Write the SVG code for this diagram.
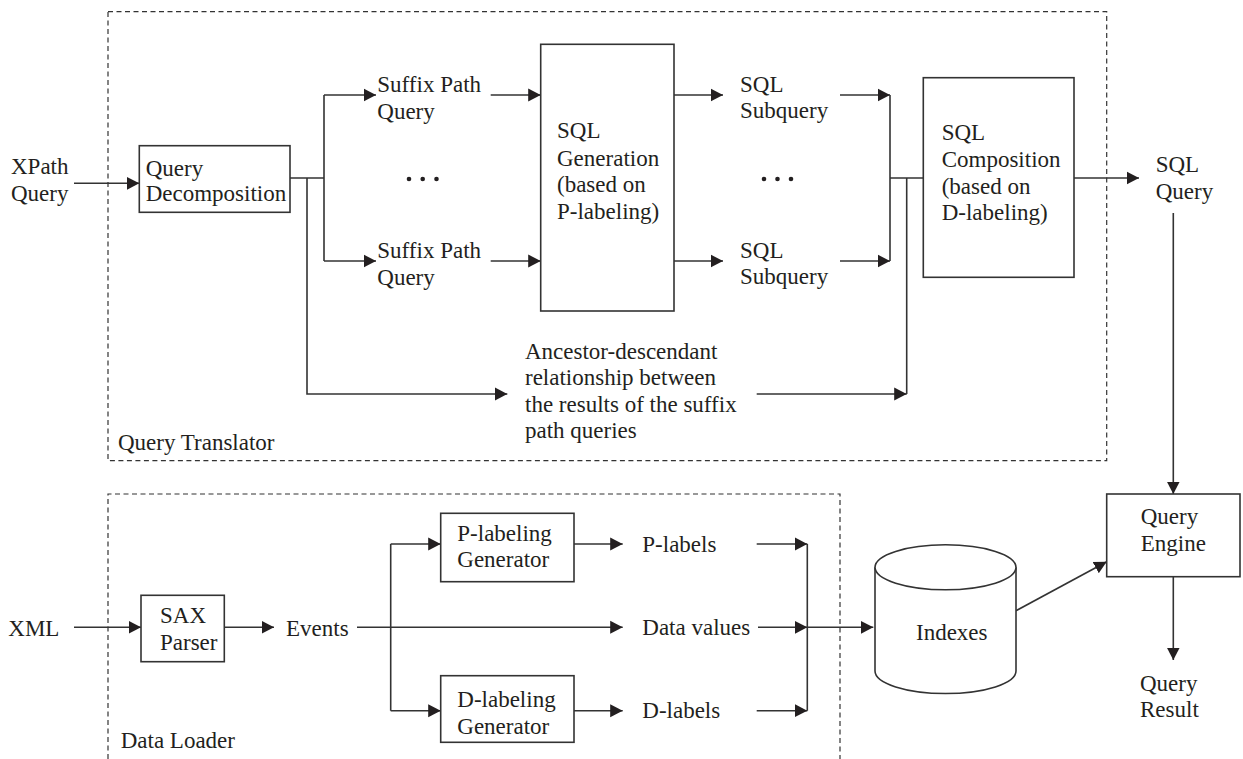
<svg xmlns="http://www.w3.org/2000/svg" width="1243" height="759" viewBox="0 0 1243 759">
<style>
text{font-family:"Liberation Serif","Times New Roman",serif;font-size:23px;fill:#231f20}
.box{fill:#fff;stroke:#333;stroke-width:1.6}
.dash{fill:none;stroke:#333;stroke-width:1.2;stroke-dasharray:5,3.5}
.c{fill:none;stroke:#333;stroke-width:1.6}
.a{marker-end:url(#ah)}
.dot{fill:#231f20}
</style>
<defs>
<marker id="ah" markerUnits="userSpaceOnUse" markerWidth="13" markerHeight="14" refX="12.5" refY="6.5" orient="auto" viewBox="0 0 13 13">
<path d="M0,0 L12.5,6.5 L0,13 z" fill="#231f20"/>
</marker>
</defs>
<rect width="1243" height="759" fill="#fff"/>

<g id="query-translator">
<rect class="dash" x="108" y="11.7" width="998.7" height="449"/>
<text x="118" y="450">Query Translator</text>
</g>
<g id="data-loader">
<path class="dash" d="M108,759 V494 H840 V759"/>
<text x="120.7" y="748">Data Loader</text>
</g>

<g id="connectors">
<path class="c a" d="M74,183.3 H139.3"/>
<path class="c" d="M290,178 H324 M324,95 V261"/>
<path class="c a" d="M324,95 H376"/>
<path class="c a" d="M324,261 H376"/>
<path class="c a" d="M307,178 V394 H507.3"/>
<path class="c a" d="M490.7,95 H540.7"/>
<path class="c a" d="M490.7,261 H540.7"/>
<path class="c a" d="M674,95 H723"/>
<path class="c a" d="M674,261 H723"/>
<path class="c a" d="M840,95 H890"/>
<path class="c a" d="M840,261 H890"/>
<path class="c" d="M890,95 V261 M890,178 H923.3"/>
<path class="c a" d="M756.7,394 H906.7"/>
<path class="c" d="M906.7,178 V394"/>
<path class="c a" d="M1074,178 H1139"/>
<path class="c a" d="M1173.3,213 V494"/>
<path class="c a" d="M1173.3,576.7 V660"/>
<path class="c a" d="M74,627.3 H141"/>
<path class="c a" d="M224.3,627.3 H274"/>
<path class="c a" d="M357,627.3 H622.7"/>
<path class="c" d="M390.7,544 V710.7"/>
<path class="c a" d="M390.7,544 H440.7"/>
<path class="c a" d="M390.7,710.7 H440.7"/>
<path class="c a" d="M574,544 H622.7"/>
<path class="c a" d="M574,710.7 H622.7"/>
<path class="c a" d="M756.7,544 H807.3"/>
<path class="c a" d="M758,627.3 H807.3"/>
<path class="c a" d="M756.7,710.7 H807.3"/>
<path class="c" d="M807.3,544 V710.7"/>
<path class="c a" d="M807.3,627.3 H873.3"/>
<path class="c a" d="M1016,610.7 L1106.7,561.7"/>
</g>

<g id="xpath-query">
<text x="11" y="174">XPath</text>
<text x="11" y="201">Query</text>
</g>
<g id="query-decomposition">
<rect class="box" x="139.3" y="145.7" width="150.7" height="66.6"/>
<text x="145.7" y="175.5">Query</text>
<text x="145.7" y="201">Decomposition</text>
</g>
<g id="suffix-path-query-1">
<text x="377.3" y="92.3">Suffix Path</text>
<text x="377.3" y="118.5">Query</text>
</g>
<g id="dots-1">
<circle class="dot" cx="409" cy="179" r="2.3"/>
<circle class="dot" cx="422.7" cy="179" r="2.3"/>
<circle class="dot" cx="436.5" cy="179" r="2.3"/>
</g>
<g id="suffix-path-query-2">
<text x="377.3" y="258">Suffix Path</text>
<text x="377.3" y="284.5">Query</text>
</g>
<g id="sql-generation">
<rect class="box" x="540.7" y="44.3" width="133.3" height="266.7"/>
<text x="557" y="138">SQL</text>
<text x="557" y="165.5">Generation</text>
<text x="557" y="192">(based on</text>
<text x="557" y="218.5">P-labeling)</text>
</g>
<g id="sql-subquery-1">
<text x="740" y="91.5">SQL</text>
<text x="740" y="118">Subquery</text>
</g>
<g id="dots-2">
<circle class="dot" cx="764" cy="179" r="2.3"/>
<circle class="dot" cx="777.5" cy="179" r="2.3"/>
<circle class="dot" cx="791" cy="179" r="2.3"/>
</g>
<g id="sql-subquery-2">
<text x="740" y="257.5">SQL</text>
<text x="740" y="284">Subquery</text>
</g>
<g id="ancestor-descendant">
<text x="525" y="359">Ancestor-descendant</text>
<text x="525" y="385">relationship between</text>
<text x="525" y="411.5">the results of the suffix</text>
<text x="525" y="438">path queries</text>
</g>
<g id="sql-composition">
<rect class="box" x="923.3" y="77.7" width="150.7" height="199.6"/>
<text x="941.7" y="140">SQL</text>
<text x="941.7" y="167">Composition</text>
<text x="941.7" y="193.5">(based on</text>
<text x="941.7" y="220">D-labeling)</text>
</g>
<g id="sql-query">
<text x="1155.7" y="172">SQL</text>
<text x="1155.7" y="199">Query</text>
</g>
<g id="query-engine">
<rect class="box" x="1106.7" y="494" width="133.3" height="82.7"/>
<text x="1140.7" y="524">Query</text>
<text x="1140.7" y="551">Engine</text>
</g>
<g id="query-result">
<text x="1140" y="691">Query</text>
<text x="1140" y="717">Result</text>
</g>
<g id="xml">
<text x="8.3" y="636">XML</text>
</g>
<g id="sax-parser">
<rect class="box" x="141" y="595.3" width="83.3" height="66.4"/>
<text x="160" y="622.7">SAX</text>
<text x="160" y="650">Parser</text>
</g>
<g id="events">
<text x="286" y="636">Events</text>
</g>
<g id="p-labeling-generator">
<rect class="box" x="440.7" y="513.3" width="133.3" height="68.4"/>
<text x="457.3" y="540.7">P-labeling</text>
<text x="457.3" y="567.3">Generator</text>
</g>
<g id="d-labeling-generator">
<rect class="box" x="440.7" y="675.7" width="133.3" height="66.6"/>
<text x="457.3" y="706.5">D-labeling</text>
<text x="457.3" y="734">Generator</text>
</g>
<g id="p-labels"><text x="642.3" y="552.3">P-labels</text></g>
<g id="data-values"><text x="642.3" y="635">Data values</text></g>
<g id="d-labels"><text x="642.3" y="718.3">D-labels</text></g>
<g id="indexes">
<path class="box" d="M875,567.3 V671 A70.5,22.5 0 0 0 1016,671 V567.3"/>
<ellipse class="box" cx="945.5" cy="567.3" rx="70.5" ry="22.5"/>
<text x="916" y="640">Indexes</text>
</g>
</svg>
